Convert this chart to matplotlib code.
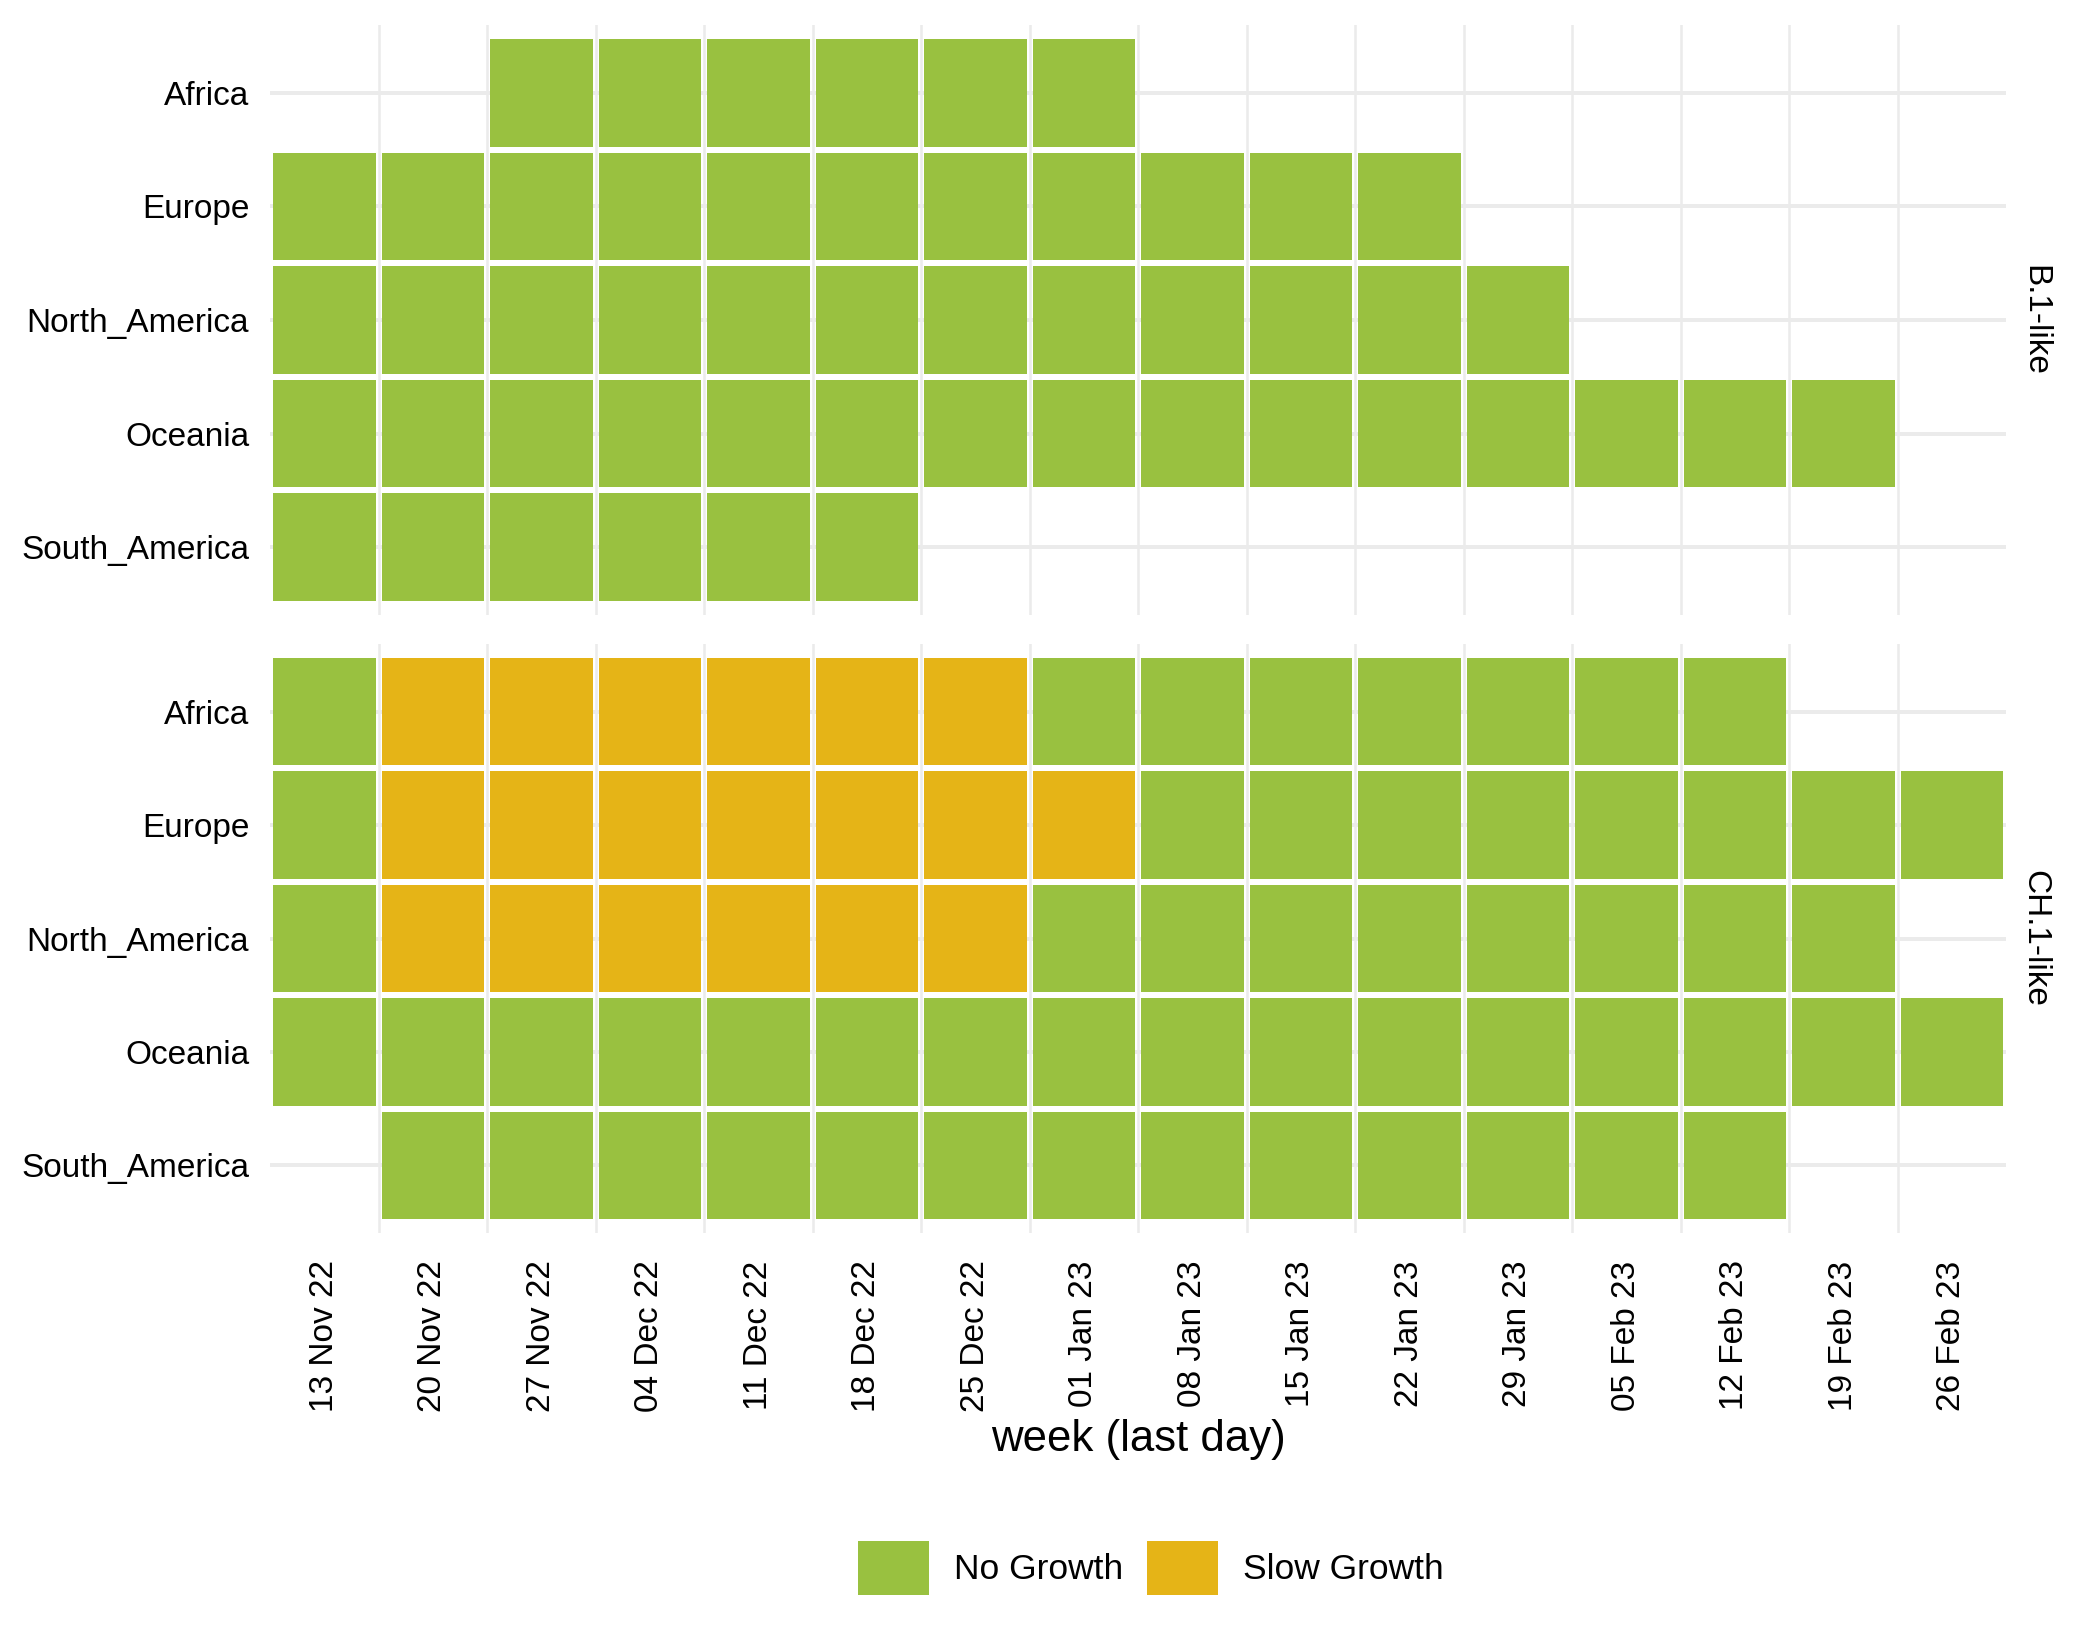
import matplotlib
matplotlib.use('Agg')
import matplotlib.pyplot as plt
from matplotlib.patches import Patch

plt.rcParams['font.family'] = ['Liberation Sans', 'DejaVu Sans']

# data
weeks = ['13 Nov 22', '20 Nov 22', '27 Nov 22', '04 Dec 22', '11 Dec 22', '18 Dec 22',
         '25 Dec 22', '01 Jan 23', '08 Jan 23', '15 Jan 23', '22 Jan 23', '29 Jan 23',
         '05 Feb 23', '12 Feb 23', '19 Feb 23', '26 Feb 23']
regions = ['Africa', 'Europe', 'North_America', 'Oceania', 'South_America']
variants = ['B.1-like', 'CH.1-like']

# N = No Growth, S = Slow Growth, - = no data (one char per week)
b1_status = ['--NNNNNN--------',
             'NNNNNNNNNNN-----',
             'NNNNNNNNNNNN----',
             'NNNNNNNNNNNNNNN-',
             'NNNNNN----------']
ch1_status = ['NSSSSSSNNNNNNN--',
              'NSSSSSSSNNNNNNNN',
              'NSSSSSSNNNNNNNN-',
              'NNNNNNNNNNNNNNNN',
              '-NNNNNNNNNNNNN--']

labels = {'N': 'No Growth', 'S': 'Slow Growth'}
colors = {'N': '#99C140', 'S': '#E5B417'}

fig = plt.figure(figsize=(14, 11), dpi=150)
ax1 = fig.add_axes([0.1286, 0.6270, 0.8267, 0.3581])
ax2 = fig.add_axes([0.1286, 0.2525, 0.8267, 0.3574])

grid_col = '#EBEBEB'
for ax, status, name in zip([ax1, ax2], [b1_status, ch1_status], variants):
    nrow = len(regions)
    # grid lines
    for r in range(nrow):
        ax.axhline(r, color=grid_col, lw=1.9, zorder=0)
    for w in range(len(weeks) - 1):
        ax.axvline(w + 0.5, color=grid_col, lw=1.2, zorder=0)
    # tiles (small gap so the grid shows between them)
    for r, row in enumerate(status):
        for w, s in enumerate(row):
            if s == '-':
                continue
            ax.bar(w, 0.947, bottom=r - 0.4735, width=0.945, color=colors[s],
                   edgecolor='none', zorder=2)
    ax.set_xlim(-0.5, len(weeks) - 0.5)
    ax.set_ylim(nrow - 0.4, -0.6)
    ax.set_yticks(range(nrow))
    ax.set_yticklabels(regions, fontsize=16)
    ax.tick_params(axis='y', length=0, pad=10)
    for sp in ax.spines.values():
        sp.set_visible(False)
    ax.text(1 + 29 / 1736, 0.5, name, transform=ax.transAxes, rotation=270,
            ha='center', va='center', fontsize=16)

ax1.set_xticks([])
ax2.set_xticks(range(len(weeks)))
ax2.set_xticklabels(weeks, rotation=90, fontsize=16)
ax2.tick_params(axis='x', length=0, pad=13)

fig.text(0.542, 0.1273, 'week (last day)', ha='center', va='center', fontsize=21)

handles = [Patch(facecolor=colors[k], edgecolor='none', label=labels[k]) for k in ['N', 'S']]
fig.legend(handles=handles, loc='center', bbox_to_anchor=(0.548, 0.0497), ncol=2,
           frameon=False, fontsize=17, handlelength=2.0, handleheight=2.0,
           handletextpad=0.7, columnspacing=0.7)

fig.savefig('out.png', dpi=150, facecolor='white')
